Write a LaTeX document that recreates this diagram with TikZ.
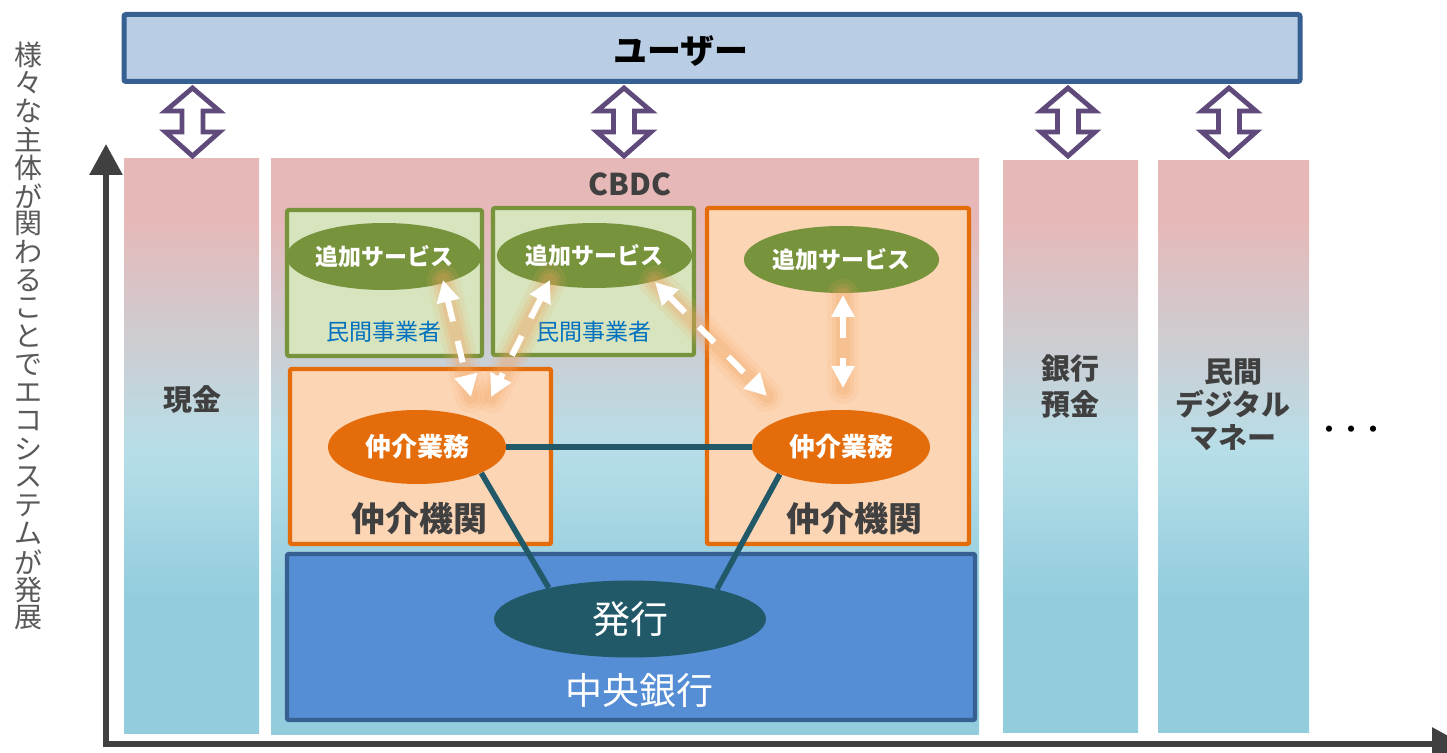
\documentclass[tikz,border=0pt]{standalone}
\usepackage{fontspec}
\setmainfont{Noto Sans CJK JP}
\usetikzlibrary{arrows.meta,shapes.geometric}
\definecolor{cP}{HTML}{E6B9B8}
\definecolor{cL}{HTML}{B7DEE8}
\definecolor{cB}{HTML}{93CDDD}
\definecolor{userfill}{HTML}{B9CDE5}
\definecolor{userdraw}{HTML}{376092}
\definecolor{purp}{HTML}{604A7B}
\definecolor{axisc}{HTML}{404040}
\definecolor{tgrey}{HTML}{404040}
\definecolor{vgrey}{HTML}{595959}
\definecolor{gfill}{HTML}{D7E4BD}
\definecolor{gdraw}{HTML}{77933C}
\definecolor{ofill}{HTML}{FCD5B5}
\definecolor{odraw}{HTML}{E46C0A}
\definecolor{cbfill}{HTML}{558ED5}
\definecolor{cbdraw}{HTML}{376092}
\definecolor{tealc}{HTML}{215968}
\definecolor{bluet}{HTML}{0070C0}
\definecolor{glowc}{HTML}{F4A460}
\pgfdeclareverticalshading{colgrad}{100bp}{color(0bp)=(cB); color(25bp)=(cB); color(36.8bp)=(cB); color(49.8bp)=(cL); color(69.7bp)=(cP); color(75bp)=(cP); color(100bp)=(cP)}
\tikzset{
  vtxt/.style={text=vgrey, font=\fontsize{14pt}{14pt}\selectfont, inner sep=0pt},
  coltxt/.style={text=tgrey, font=\bfseries\fontsize{14.5pt}{18pt}\selectfont, align=center, inner sep=0pt},
  gbox/.style={draw=gdraw, fill=gfill, line width=2.1pt, rounded corners=1pt},
  obox/.style={draw=odraw, fill=ofill, line width=2.2pt, rounded corners=1pt},
  gell/.style={ellipse, fill=gdraw, inner sep=0pt, text=white, font=\bfseries\fontsize{11.5pt}{11.5pt}\selectfont},
  oell/.style={ellipse, fill=odraw, inner sep=0pt, text=white, font=\bfseries\fontsize{13pt}{13pt}\selectfont, minimum width=89pt, minimum height=37pt},
  tline/.style={draw=tealc, line width=2.8pt},
  dbl/.style={draw=purp, fill=white, line width=2.4pt, line join=miter},
  axisline/.style={draw=axisc, line width=3pt, line join=miter},
  glowa/.style={draw=glowc, line width=16pt, opacity=0.12, line cap=round},
  glowb/.style={draw=glowc, line width=11pt, opacity=0.16, line cap=round},
  glowc/.style={draw=glowc, line width=7pt, opacity=0.22, line cap=round},
  warrow/.style={draw=white, line width=3pt, dash pattern=on 11pt off 10pt, {Triangle[length=11pt,width=11pt]}-{Triangle[length=11pt,width=11pt]}}
}
\begin{document}
\begin{tikzpicture}[x=0.5pt,y=-0.5pt]
\clip (0,0) rectangle (1447,753);
\fill[white] (0,0) rectangle (1447,753);

% vertical label
\foreach \c [count=\i from 0] in {様,々,な,主,体,が,関,わ,る,こ,と,で,エ,コ,シ,ス,テ,ム,が,発,展}
  \node[vtxt] (v\i) at (28,{55+28.15*\i}) {\c};

% columns
\shade[shading=colgrad] (124,159) rectangle (259,733);
\shade[shading=colgrad] (271,159) rectangle (979,734);
\shade[shading=colgrad] (1003,161) rectangle (1138,732);
\shade[shading=colgrad] (1158,161) rectangle (1309,732);

% user box
\draw[draw=userdraw, fill=userfill, line width=2.5pt, rounded corners=1pt] (124,14.5) rectangle (1300,81.5);
\node[font=\bfseries\fontsize{17pt}{17pt}\selectfont] (user) at (681,51) {ユーザー};

% double arrows
\foreach \cx in {192.5,624,1068,1229}
  \draw[dbl] (\cx,88) -- ({\cx+27},111) -- ({\cx+10.5},111) -- ({\cx+10.5},132) -- ({\cx+27},132) -- (\cx,156)
     -- ({\cx-27},132) -- ({\cx-10.5},132) -- ({\cx-10.5},111) -- ({\cx-27},111) -- cycle;

% axes
\coordinate (origin) at (106,744);
\coordinate (ytip) at (106,144);
\coordinate (xtip) at (1463,744);
\draw[axisline, {Triangle[length=15.5pt,width=16pt]}-{Triangle[length=15.5pt,width=16pt]}] (ytip) -- (origin) -- (xtip);

% column labels
\node[coltxt] (cash) at (192,400) {現金};
\node[coltxt, font=\bfseries\fontsize{15pt}{15pt}\selectfont] (cbdc) at (630,184) {CBDC};
\node[coltxt] (dep) at (1070,387) {銀行\\預金};
\node[coltxt, font=\bfseries\fontsize{14.5pt}{16.5pt}\selectfont] (dm) at (1233,405) {民間\\デジタル\\マネー};
\node[text=black, font=\bfseries\fontsize{11pt}{11pt}\selectfont, inner sep=0pt] (dots) at (1351,432) {・・・};

% private businesses
\draw[gbox] (287,210) rectangle (482,356);
\draw[gbox] (493,208) rectangle (694,355);
\node[text=bluet, font=\fontsize{11.5pt}{11.5pt}\selectfont] (p1) at (384,332) {民間事業者};
\node[text=bluet, font=\fontsize{11.5pt}{11.5pt}\selectfont] (p2) at (594,332) {民間事業者};

% intermediaries
\draw[obox] (290,369) rectangle (551,544);
\draw[obox] (707,208) rectangle (969,544);
\node[coltxt, font=\bfseries\fontsize{17pt}{17pt}\selectfont] (i1) at (419,519) {仲介機関};
\node[coltxt, font=\bfseries\fontsize{17pt}{17pt}\selectfont] (i2) at (854,519) {仲介機関};

% central bank
\draw[draw=cbdraw, fill=cbfill, line width=2.2pt, rounded corners=1pt] (287,554) rectangle (975,720);
\node[text=white, font=\fontsize{18.5pt}{18.5pt}\selectfont] (cb) at (639,690) {中央銀行};

% ellipses
\node[gell, minimum width=81pt, minimum height=33.5pt] (s1) at (384,256.5) {追加サービス};
\node[gell, minimum width=82.5pt, minimum height=32.5pt] (s2) at (594.5,255.5) {追加サービス};
\node[gell, minimum width=90.5pt, minimum height=33.5pt] (s3) at (841.5,259.5) {追加サービス};
\node[oell] (m1) at (417,447) {仲介業務};
\node[oell] (m2) at (841,447) {仲介業務};
\node[ellipse, fill=tealc, inner sep=0pt, minimum width=136pt, minimum height=38.5pt, text=white, font=\fontsize{19pt}{19pt}\selectfont] (iss) at (630,619) {発行};

% connections
\draw[tline] (m1.east) -- (m2.west);
\draw[tline] (m1.-22.4) -- (iss.159.2);
\draw[tline] (m2.-156.9) -- (iss.19.6);

% dashed white arrows with glow
\coordinate (a1) at (443,280); \coordinate (a2) at (471,397);
\coordinate (b1) at (550,280); \coordinate (b2) at (491,397);
\coordinate (c1) at (655,282); \coordinate (c2) at (767,396);
\coordinate (d1) at (843,295); \coordinate (d2) at (843,388);
\foreach \p/\q in {a1/a2,b1/b2,c1/c2,d1/d2} {
  \draw[glowa] (\p) -- (\q);
  \draw[glowb] (\p) -- (\q);
  \draw[glowc] (\p) -- (\q);
}
\draw[warrow] (a1) -- (a2);
\draw[warrow] (b1) -- (b2);
\draw[warrow] (c1) -- (c2);
\draw[warrow] (d1) -- (d2);
\end{tikzpicture}
\end{document}
